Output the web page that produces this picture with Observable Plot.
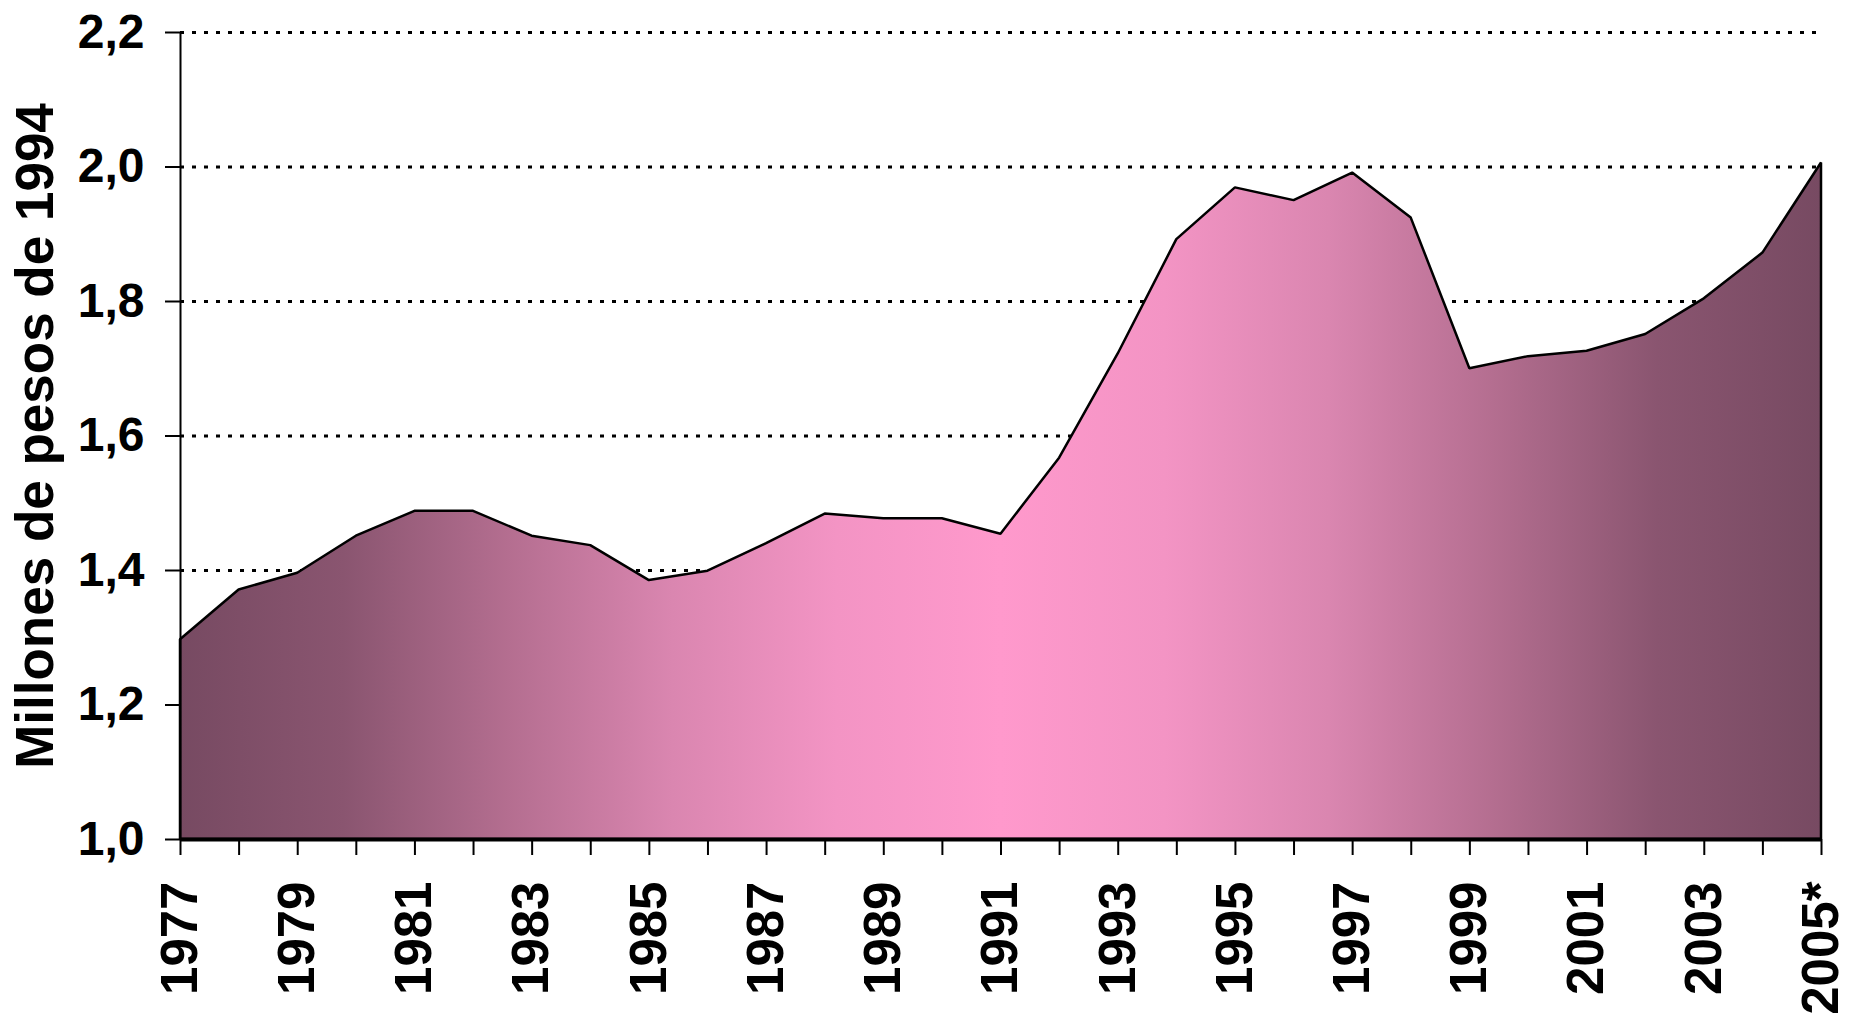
<!DOCTYPE html>
<html>
<head>
<meta charset="utf-8">
<script src="https://cdn.jsdelivr.net/npm/d3@7"></script>
<script src="https://cdn.jsdelivr.net/npm/@observablehq/plot@0.6"></script>
<style>
  html, body { margin: 0; padding: 0; background: #ffffff; }
  #chart { width: 1863px; height: 1022px; }
</style>
</head>
<body>
<div id="chart"></div>
<script>
const years = [1977, 1978, 1979, 1980, 1981, 1982, 1983, 1984, 1985, 1986, 1987, 1988, 1989, 1990,
  1991, 1992, 1993, 1994, 1995, 1996, 1997, 1998, 1999, 2000, 2001, 2002, 2003, 2004, 2005];
const values = [1.297, 1.371, 1.396, 1.451, 1.488, 1.488, 1.451, 1.437, 1.385, 1.399, 1.440, 1.484, 1.477, 1.477,
  1.454, 1.567, 1.722, 1.892, 1.969, 1.950, 1.991, 1.924, 1.700, 1.718, 1.726, 1.751, 1.804, 1.872, 2.006];
const labelYears = [1977, 1979, 1981, 1983, 1985, 1987, 1989, 1991, 1993, 1995, 1997, 1999, 2001, 2003, 2005];
const labelTexts = ["1977", "1979", "1981", "1983", "1985", "1987", "1989", "1991", "1993", "1995", "1997", "1999", "2001", "2003", "2005*"];
const yTicks = [1.0, 1.2, 1.4, 1.6, 1.8, 2.0, 2.2];
const gridTicks = [1.2, 1.4, 1.6, 1.8, 2.0, 2.2];
const yTitle = "Millones de pesos de 1994";

const data = years.map((year, i) => ({year, value: values[i]}));
const labels = labelYears.map((year, i) => ({year, text: labelTexts[i]}));
const font = "'Liberation Sans', Arial, Helvetica, sans-serif";

const gradStops = [
  [0, "#774a62"], [0.1, "#8a5570"], [0.2, "#b46e90"], [0.3, "#da86b0"], [0.4, "#f394c4"], [0.5, "#ff99cc"],
  [0.6, "#f394c4"], [0.7, "#da86b0"], [0.8, "#b46e90"], [0.9, "#8a5570"], [1, "#774a62"]
];

const defs = () => {
  const d = d3.create("svg:defs");
  const g = d.append("linearGradient").attr("id", "areaGrad")
    .attr("x1", "0").attr("x2", "1").attr("y1", "0").attr("y2", "0");
  for (const [o, c] of gradStops) g.append("stop").attr("offset", o).attr("stop-color", c);
  return d.node();
};

const chart = Plot.plot({
  width: 1863,
  height: 1022,
  marginLeft: 180,
  marginRight: 42,
  marginTop: 32,
  marginBottom: 183,
  style: {fontFamily: font, background: "#ffffff", color: "#000000"},
  x: {domain: [1977, 2005]},
  y: {domain: [1.0, 2.2]},
  marks: [
    defs,
    Plot.ruleY(gridTicks, {stroke: "#000", strokeWidth: 3, strokeDasharray: "4,8"}),
    Plot.areaY(data, {x: "year", y1: 1.0, y2: "value", fill: "url(#areaGrad)", stroke: "#000", strokeWidth: 2.5, strokeLinejoin: "miter"}),
    Plot.ruleX([1977], {y1: 1.0, y2: 2.2, stroke: "#000", strokeWidth: 2}),
    Plot.ruleY([1.0], {stroke: "#000", strokeWidth: 4}),
    Plot.axisY(yTicks, {
      tickSize: 15, tickPadding: 21, strokeWidth: 2, label: null,
      tickFormat: d => d.toFixed(1).replace(".", ","),
      fontSize: 48, fontWeight: "bold", fill: "#000"
    }),
    Plot.axisX(years, {tickSize: 16, strokeWidth: 2, tickFormat: () => "", label: null}),
    Plot.text(labels, {
      x: "year", y: 1.0, text: "text", rotate: -90, textAnchor: "end",
      dy: 42, fontSize: 51, fontWeight: "bold", fill: "#000"
    }),
    Plot.text([yTitle], {
      frameAnchor: "left", rotate: -90, dx: -144, textAnchor: "middle",
      fontSize: 53, fontWeight: "bold", fill: "#000"
    })
  ]
});
document.getElementById("chart").appendChild(chart);
</script>
</body>
</html>
